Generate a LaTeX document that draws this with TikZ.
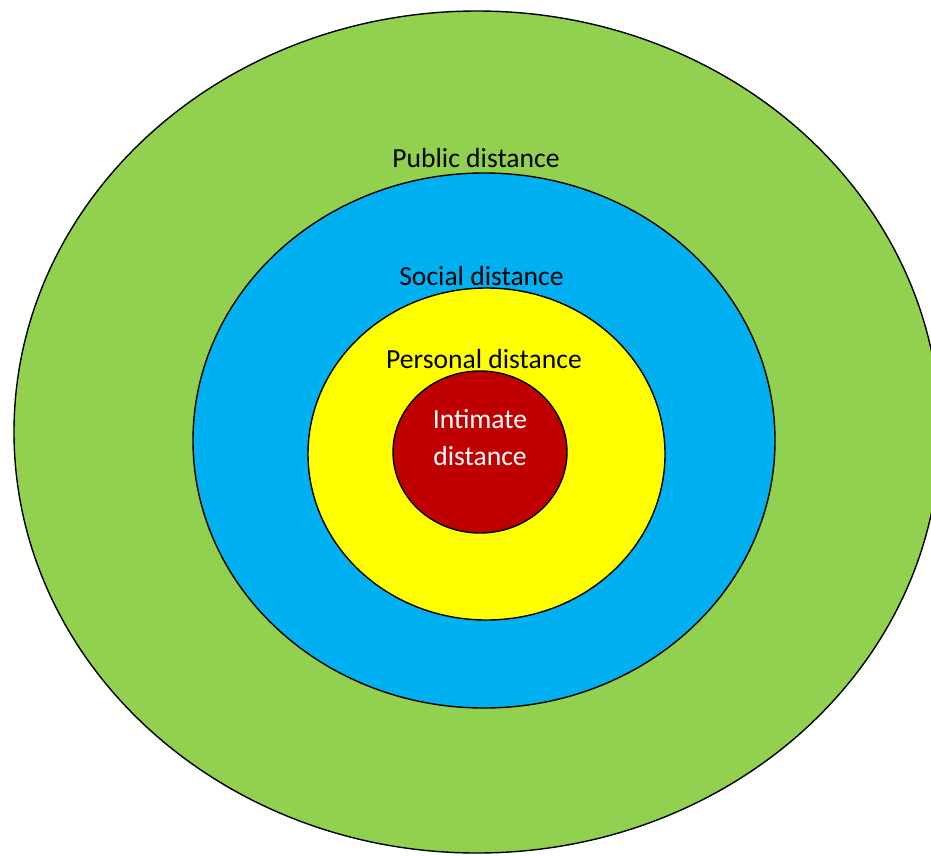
\documentclass[tikz,border=0pt]{standalone}
\usepackage{fontspec}
\setmainfont{Carlito}
\usetikzlibrary{shapes.geometric, positioning}
\definecolor{cPublic}{RGB}{146, 208, 80}
\definecolor{cSocial}{RGB}{0, 176, 240}
\definecolor{cPersonal}{RGB}{255, 255, 0}
\definecolor{cIntimate}{RGB}{192, 0, 0}
\tikzset{
    % basic ring style
    zone/.style={
        ellipse, draw=black, line width=1.4pt,
        inner sep=0pt, outer sep=0pt
    },
    % colours of each zone
    publicZone/.style={zone, fill=cPublic, minimum width=926pt, minimum height=842pt},
    socialZone/.style={zone, fill=cSocial, minimum width=582pt, minimum height=535pt},
    personalZone/.style={zone, fill=cPersonal, minimum width=357pt, minimum height=332pt},
    intimateZone/.style={zone, fill=cIntimate, minimum width=174pt, minimum height=162pt},
    % label text
    zoneLabel/.style={font=\fontsize{27.6}{37}\selectfont, inner sep=0pt, anchor=base, align=center}
}

\begin{document}
\begin{tikzpicture}[x=1pt, y=-1pt]

	\useasboundingbox (0,0) rectangle (931,855);
	\clip (0,0) rectangle (931,855);

	% ==========================================
	% zones, outside in
	% ==========================================
	\node [publicZone] (public) at (477,432) {};
	\node [socialZone] (social) at (484,440.5) {};
	\node [personalZone] (personal) at (486.5,454) {};
	\node [intimateZone] (intimate) at (480,452) {};

	% ==========================================
	% labels, just above the next zone in
	% ==========================================
	\node [zoneLabel] (publicLabel) at ([xshift=-8pt, yshift=6pt]social.north) {Public distance};
	\node [zoneLabel] (socialLabel) at ([xshift=-5pt, yshift=3pt]personal.north) {Social distance};
	\node [zoneLabel] (personalLabel) at ([xshift=4pt, yshift=3pt]intimate.north) {Personal distance};

	\node [zoneLabel, anchor=center, text=white] (intimateLabel) at ([yshift=14pt]intimate.center) {Intimate\\distance};

\end{tikzpicture}
\end{document}
